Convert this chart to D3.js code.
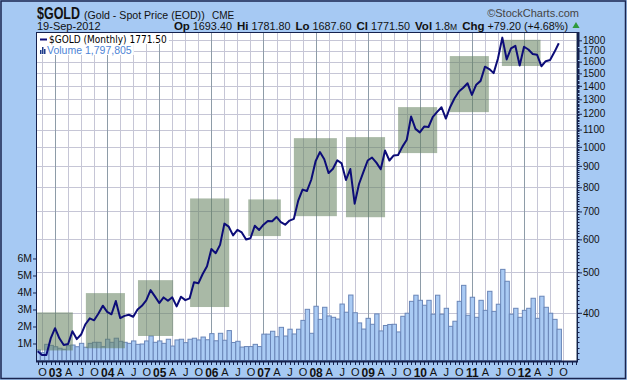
<!DOCTYPE html>
<html><head><meta charset="utf-8">
<script src="https://cdnjs.cloudflare.com/ajax/libs/d3/7.8.5/d3.min.js"></script>
<style>
html,body{margin:0;padding:0;background:#fff;}
svg{display:block;font-family:"Liberation Sans",Arial,sans-serif;}
</style></head><body>
<svg id="c" width="627" height="380"></svg>
<script>
// ---------------- DATA ----------------
const startDate = new Date(2002, 8, 1);   // Sep 2002
const endDate   = new Date(2012, 9, 1);   // up to Sep 2012
const months = d3.timeMonth.range(startDate, endDate); // 121 monthly categories

const closes = [
  323.7, 316.9, 317.1, 347.2,
  367.5, 347.5, 334.9, 336.8, 361.4, 346.0, 354.8, 375.6, 388.0, 383.8, 398.4, 416.1,
  402.2, 396.8, 426.8, 388.5, 393.3, 395.8, 391.4, 407.3, 415.7, 428.3, 453.4, 438.0,
  422.2, 435.5, 427.5, 435.7, 414.5, 437.1, 429.0, 433.3, 473.3, 470.8, 495.7, 517.0,
  568.8, 556.0, 582.0, 654.5, 643.5, 613.5, 632.5, 623.5, 599.3, 603.8, 646.7, 632.0,
  650.5, 664.2, 663.0, 679.0, 660.0, 650.5, 665.5, 672.0, 743.0, 789.5, 783.5, 833.8,
  923.3, 971.5, 933.5, 865.0, 885.8, 928.3, 912.5, 833.0, 884.5, 730.8, 814.5, 869.8,
  927.3, 942.5, 916.5, 883.3, 979.5, 927.3, 953.5, 955.5, 1001, 1040, 1182, 1104,
  1083, 1118, 1115.5, 1180, 1212.5, 1244, 1169, 1246, 1307, 1357, 1386, 1420,
  1332, 1409, 1439, 1556, 1536, 1502, 1628, 1827, 1620, 1722, 1746, 1566,
  1737, 1711, 1669, 1663, 1560, 1604, 1614, 1687, 1771.5
];

const volumesM = [
  0.62, 0.46, 0.95, 0.89,
  0.81, 0.72, 0.66, 0.87, 0.91, 0.81, 1.01, 0.78, 1.01, 1.07, 1.07, 0.81,
  1.25, 1.07, 1.31, 1.13, 1.07, 1.01, 1.15, 0.95, 0.97, 1.15, 1.44, 1.07,
  1.15, 1.01, 1.25, 0.85, 1.21, 1.25, 1.05, 1.25, 1.31, 1.21, 1.38, 1.22,
  1.58, 1.16, 1.60, 1.19, 1.76, 1.06, 1.13, 0.79, 0.82, 0.82, 0.95, 0.82,
  1.55, 1.55, 1.72, 1.40, 1.95, 1.44, 1.84, 1.56, 1.84, 2.36, 3.01, 1.60,
  3.19, 2.42, 3.13, 2.62, 2.54, 2.44, 3.32, 2.84, 3.85, 2.81, 2.21, 1.85,
  2.48, 2.13, 2.74, 1.74, 2.06, 2.12, 2.13, 1.68, 2.60, 2.78, 3.48, 3.84,
  3.54, 3.25, 3.54, 2.72, 3.84, 2.72, 3.07, 2.01, 2.31, 3.48, 4.42, 2.66,
  3.72, 2.54, 3.54, 2.95, 4.07, 2.89, 3.31, 5.36, 4.66, 2.72, 3.07, 2.54,
  2.95, 3.07, 3.66, 2.48, 3.78, 3.13, 2.78, 2.42, 1.84
];

const priceTicks = [400, 500, 600, 700, 800, 900, 1000, 1100, 1200, 1300, 1400, 1500, 1600, 1700, 1800];
const volTicks = [1, 2, 3, 4, 5, 6];
const monthLetters = {3: "A", 6: "J", 9: "O"};

// annotation boxes (month index span, price span)
const boxStart = [-0.1, 11.1, 23.1, 35.1, 48.5, 59.0, 71.0, 83.0, 94.9, 106.9];
const boxEnd   = [8.1, 20.1, 31.2, 44.1, 56.0, 68.9, 80.0, 92.0, 103.9, 115.8];
const boxLow   = [325, 329, 352, 413, 611, 682, 678, 966, 1211, 1562];
const boxHigh  = [401, 446, 479, 752, 748, 1049, 1055, 1245, 1650, 1805];

// header texts
const symbol = "$GOLD";
const title = "(Gold - Spot Price (EOD))";
const exchange = "CME";
const dateText = "19-Sep-2012";
const stats = [["Op", "1693.40"], ["Hi", "1781.80"], ["Lo", "1687.60"], ["Cl", "1771.50"], ["Vol", "1.8"], ["Chg", "+79.20 (+4.68%)"]];
const legendPrice = "$GOLD (Monthly) 1771.50";
const legendVol = "Volume 1,797,805";

// ---------------- LAYOUT ----------------
const W = 627, H = 380;
const L = 36, R = 578, T = 32, B = 361;
const svg = d3.select("#c");

const x = d3.scaleLinear().domain([-0.5, 124.5]).range([35.5, 578.3]);
const yP = d3.scaleLog().domain([308.3, 1884.6]).range([360, 32]);
const yV = d3.scaleLinear().domain([0, 19.32]).range([360.5, 32]);

// background
svg.append("rect").attr("width", W).attr("height", H).attr("fill", "#a6c9f3");
svg.append("rect").attr("x", 1).attr("y", 1).attr("width", W - 2.5).attr("height", H - 2.5)
  .attr("fill", "none").attr("stroke", "#1a2550").attr("stroke-width", 1.5);

// plot area
svg.append("rect").attr("x", L).attr("y", T).attr("width", R - L).attr("height", B - T).attr("fill", "#fff");

svg.append("clipPath").attr("id", "pc").append("rect")
  .attr("x", L).attr("y", T).attr("width", R - L).attr("height", B - T);
const g = svg.append("g").attr("clip-path", "url(#pc)");

// grid
const qIdx = d3.range(1, 125, 3);
g.selectAll(".hg").data(priceTicks).join("line")
  .attr("x1", L).attr("x2", R).attr("y1", d => Math.round(yP(d)) + 0.5).attr("y2", d => Math.round(yP(d)) + 0.5)
  .attr("stroke", "#c6c6d6").attr("stroke-width", 1);
g.selectAll(".vg").data(qIdx).join("line")
  .attr("y1", T).attr("y2", B)
  .attr("x1", d => Math.round(x(d)) + 0.5).attr("x2", d => Math.round(x(d)) + 0.5)
  .attr("stroke", d => ((d - 4) % 12 === 0) ? "#8e9ca8" : "#c6c6d6").attr("stroke-width", 1);

// volume bars
g.selectAll(".vb").data(volumesM).join("rect")
  .attr("x", (d, i) => x(i - 0.5) + 0.5)
  .attr("width", (d, i) => x(i + 0.5) - x(i - 0.5))
  .attr("y", d => yV(d))
  .attr("height", d => yV(0) - yV(d))
  .attr("fill", "#aacbf4").attr("stroke", "#6a86b8").attr("stroke-width", 1);

// annotation boxes
g.selectAll(".box").data(boxStart).join("rect")
  .attr("x", (d, i) => x(boxStart[i]))
  .attr("width", (d, i) => x(boxEnd[i]) - x(boxStart[i]))
  .attr("y", (d, i) => yP(boxHigh[i]))
  .attr("height", (d, i) => yP(boxLow[i]) - yP(boxHigh[i]))
  .attr("fill", "#62805c").attr("fill-opacity", 0.55);

// price line
g.append("path").datum(closes)
  .attr("d", d3.line().x((d, i) => x(i)).y(d => yP(d)))
  .attr("fill", "none").attr("stroke", "#0c0c78").attr("stroke-width", 2).attr("stroke-linejoin", "round");

// frame
svg.append("rect").attr("x", L + 0.5).attr("y", T + 0.5).attr("width", R - L - 1).attr("height", B - T)
  .attr("fill", "none").attr("stroke", "#15214d").attr("stroke-width", 1);
svg.append("line").attr("x1", L).attr("x2", R).attr("y1", B + 0.5).attr("y2", B + 0.5)
  .attr("stroke", "#15214d").attr("stroke-width", 2);

// right price axis
const minor = d3.range(310, 1885, 10);
const ra = svg.append("g").attr("transform", `translate(${R},0)`);
ra.selectAll(".mt").data(minor).join("line")
  .attr("x1", 0).attr("x2", 1.5).attr("y1", d => Math.round(yP(d)) + 0.5).attr("y2", d => Math.round(yP(d)) + 0.5)
  .attr("stroke", "#15214d").attr("stroke-width", 1);
const axR = d3.axisRight(yP).tickValues(priceTicks).tickSize(4).tickPadding(1).tickFormat(d3.format("d"));
ra.call(axR);
ra.select(".domain").remove();
ra.selectAll(".tick line").attr("stroke", "#15214d");
ra.selectAll(".tick text").attr("font-family", "Liberation Sans, Arial, sans-serif").attr("font-size", 10).attr("fill", "#111");

// left volume axis
const la = svg.append("g").attr("transform", `translate(${L},0)`);
const axL = d3.axisLeft(yV).tickValues(volTicks).tickSize(3).tickPadding(1).tickFormat(d => d + "M");
la.call(axL);
la.select(".domain").remove();
la.selectAll(".tick line").attr("stroke", "#15214d");
la.selectAll(".tick text").attr("font-family", "Liberation Sans, Arial, sans-serif").attr("font-size", 10.5).attr("fill", "#111");

// bottom time axis
const ba = svg.append("g").attr("transform", `translate(0,${B + 1})`);
ba.selectAll(".bt").data(d3.range(0, 125)).join("line")
  .attr("x1", d => Math.round(x(d)) + 0.5).attr("x2", d => Math.round(x(d)) + 0.5)
  .attr("y1", 0).attr("y2", 3).attr("stroke", "#15214d");
const axB = d3.axisBottom(x).tickValues(d3.range(1, 122, 3)).tickSize(0).tickPadding(6)
  .tickFormat(i => {
    const dt = d3.timeMonth.offset(startDate, i);
    const m = dt.getMonth();
    return m === 0 ? d3.timeFormat("%y")(dt) : monthLetters[m];
  });
ba.call(axB);
ba.select(".domain").remove();
ba.selectAll(".tick text")
  .attr("font-family", "Liberation Sans, Arial, sans-serif")
  .attr("font-size", i => (d3.timeMonth.offset(startDate, i).getMonth() === 0) ? 12 : 11)
  .attr("font-weight", i => (d3.timeMonth.offset(startDate, i).getMonth() === 0) ? "bold" : "normal")
  .attr("fill", "#111");

// legend
const lg = svg.append("g");
const t1 = lg.append("text").attr("x", 49).attr("y", 43).attr("font-size", 10)
  .attr("font-family", "DejaVu Sans Condensed, DejaVu Sans, sans-serif").attr("fill", "#000").text(legendPrice);
const t2 = lg.append("text").attr("x", 47).attr("y", 53.5).attr("font-size", 10.5)
  .attr("font-family", "Liberation Sans, Arial, sans-serif").attr("fill", "#4d84d6").text(legendVol);
const b1 = t1.node().getBBox(), b2 = t2.node().getBBox();
lg.insert("rect", "text").attr("x", 37).attr("y", 33).attr("width", b1.x + b1.width - 37 + 2).attr("height", 11).attr("fill", "#fff");
lg.insert("rect", "text").attr("x", 37).attr("y", 44).attr("width", b2.x + b2.width - 37 + 2).attr("height", 11).attr("fill", "#fff");
lg.append("line").attr("x1", 40).attr("x2", 47).attr("y1", 39.5).attr("y2", 39.5).attr("stroke", "#0c0c78").attr("stroke-width", 2);
lg.selectAll(".ic").data([[40, 50], [42, 47], [44, 49]]).join("rect")
  .attr("x", d => d[0]).attr("y", d => d[1]).attr("width", 1.5).attr("height", d => 54 - d[1]).attr("fill", "#1d3a8a");

// header
svg.append("text").attr("x", 37).attr("y", 19).attr("font-family", "Liberation Sans, Arial, sans-serif")
  .attr("font-weight", "bold").attr("font-size", 16).attr("fill", "#111")
  .attr("textLength", 43).attr("lengthAdjust", "spacingAndGlyphs").text(symbol);
svg.append("text").attr("x", 84).attr("y", 19).attr("font-size", 10.6).attr("fill", "#111").text(title);
svg.append("text").attr("x", 212).attr("y", 19).attr("font-size", 10).attr("fill", "#111").text(exchange);
svg.append("text").attr("x", 579).attr("y", 17).attr("text-anchor", "end").attr("font-size", 11).attr("fill", "#444").text("©StockCharts.com");
svg.append("text").attr("x", 37).attr("y", 30).attr("font-size", 11).attr("fill", "#111").text(dateText);
const st = svg.append("text").attr("x", 568).attr("y", 30).attr("text-anchor", "end").attr("font-size", 10.8).attr("fill", "#111");
stats.forEach(([k, v], i) => {
  st.append("tspan").attr("font-weight", "bold").attr("font-size", 11.5).attr("dx", i ? 5 : 0).text(k);
  st.append("tspan").attr("dx", 3).text(v);
  if (k === "Vol") st.append("tspan").attr("font-size", 8.5).text("M");
});
svg.append("path").attr("d", d3.symbol(d3.symbolTriangle, 22)()).attr("transform", "translate(576,26)").attr("fill", "#2e9a3c");
</script>
</body></html>
